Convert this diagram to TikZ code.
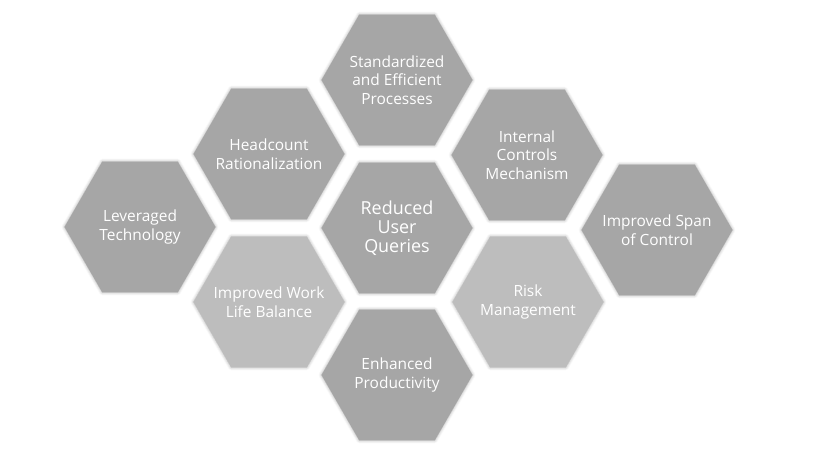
\documentclass[tikz,border=0pt]{standalone}
\usepackage{fontspec}
\setmainfont{Open Sans}
\usetikzlibrary{shapes.geometric,shadows.blur}
\definecolor{hexdark}{HTML}{A6A6A6}
\definecolor{hexlight}{HTML}{BDBDBD}
\tikzset{
  hexbox/.style={regular polygon, regular polygon sides=6, minimum size=151bp,
    inner sep=0pt, draw=none,
    blur shadow={shadow xshift=0pt, shadow yshift=0pt, shadow blur radius=3bp, shadow opacity=35}},
  hexd/.style={hexbox, fill=hexdark},
  hexl/.style={hexbox, fill=hexlight},
  hextext/.style={text=white, align=center, inner sep=0pt,
    font=\fontsize{15.5}{18.5}\selectfont},
  bigtext/.style={hextext, font=\fontsize{18}{19}\selectfont},
}
\begin{document}
\begin{tikzpicture}[x=1bp,y=-1bp]
\useasboundingbox (0,0) rectangle (825,451);
\node[hexd] (std) at (397,80) {};
\node[hexd] (red) at (397,228) {};
\node[hexd] (enh) at (397,375) {};
\node[hexd] (head) at (269,154) {};
\node[hexl] (work) at (269,302) {};
\node[hexd] (lev) at (140,227) {};
\node[hexd] (ctrl) at (527,155) {};
\node[hexl] (risk) at (528,302) {};
\node[hexd] (span) at (657,230) {};
\node[hextext] (stdt) at (std) {Standardized\\and Efficient\\Processes};
\node[bigtext] (redt) at (red) {Reduced\\User\\Queries};
\node[hextext] (enht) at (enh) {Enhanced\\Productivity};
\node[hextext] (headt) at (head) {Headcount\\Rationalization};
\node[hextext] (workt) at (work) {Improved Work\\Life Balance};
\node[hextext] (levt) at (lev) {Leveraged\\Technology};
\node[hextext] (ctrlt) at (ctrl) {Internal\\Controls\\Mechanism};
\node[hextext] (riskt) at (risk) {Risk\\Management};
\node[hextext] (spant) at (span) {Improved Span\\of Control};
\end{tikzpicture}
\end{document}
